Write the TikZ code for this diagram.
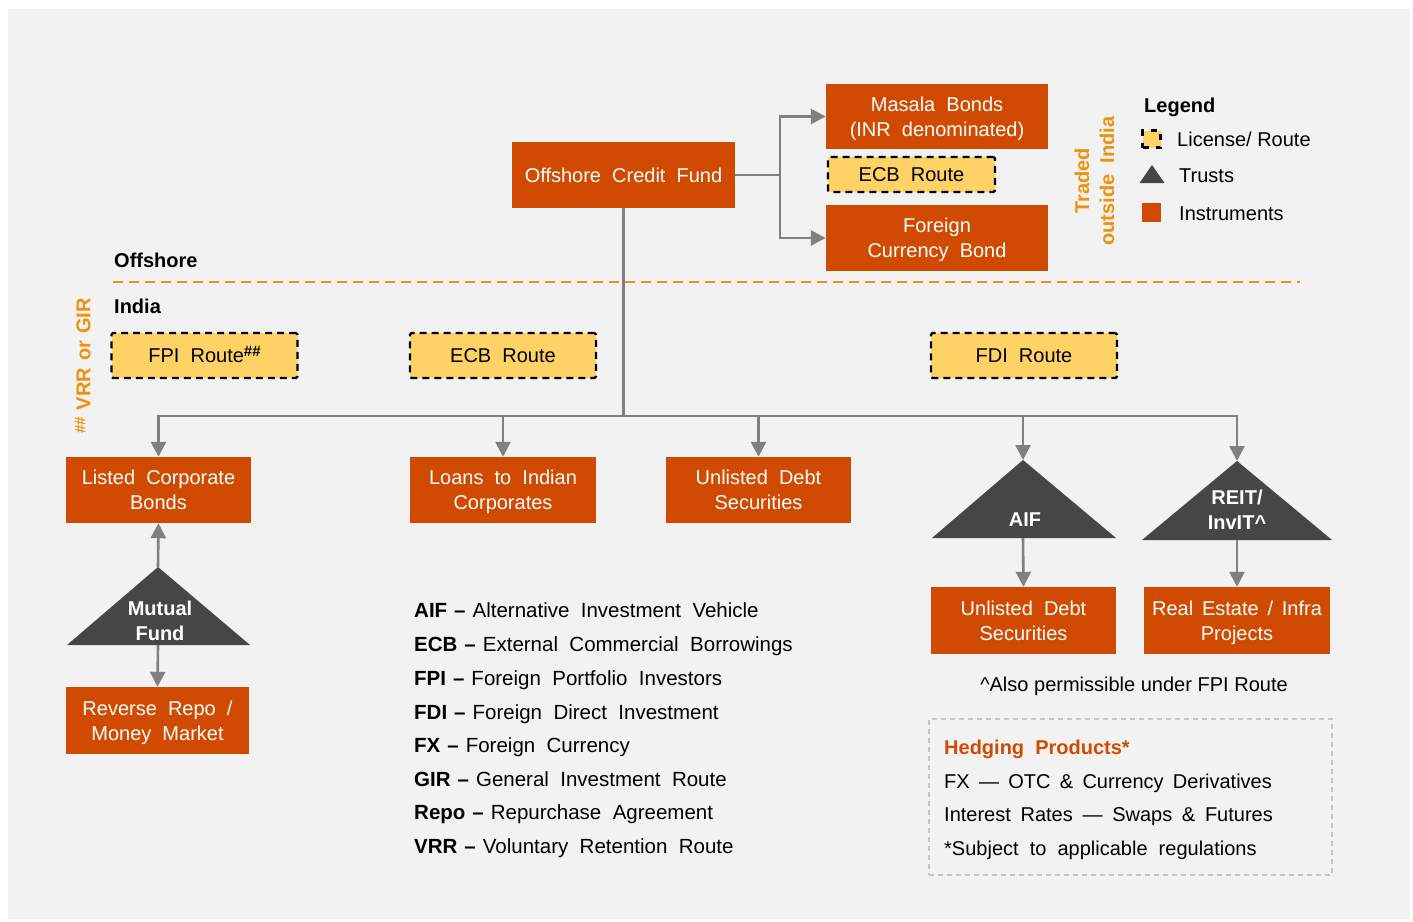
\documentclass[tikz,border=0pt]{standalone}
\usepackage{fontspec}
\setmainfont{Liberation Sans}[WordSpace=2]
\usetikzlibrary{arrows.meta}
\definecolor{panel}{HTML}{F2F2F2}
\definecolor{instr}{HTML}{D04A02}
\definecolor{routey}{HTML}{FFD265}
\definecolor{trustgrey}{HTML}{464646}
\definecolor{conn}{HTML}{808080}
\definecolor{accent}{HTML}{F0900E}
\definecolor{hedgeline}{HTML}{C4C4C4}
\newcommand\fs[1]{\fontsize{#1}{25}\selectfont}
\newcommand\hashsup[1]{\raisebox{#1}{\bfseries\fs{15}\#\#}}
\newcommand\abbrline[2]{\fs{20.5}\textbf{#1\hspace{7pt}–}\hspace{7pt}#2}

\begin{document}
\begin{tikzpicture}[x=1pt,y=-1pt,
  base/.style={font=\fs{20}, inner sep=0pt, align=center},
  oneline/.style={text height=14.5pt, text depth=0pt},
  boldtext/.style={base, font=\bfseries\fs{20}},
  accenttext/.style={boldtext, text=accent},
  instrbox/.style={base, fill=instr, text=white, text depth=0pt, minimum width=186pt, minimum height=66pt},
  routebox/.style={base, oneline, fill=routey, draw=black, line width=2.2pt,
    dash pattern=on 7pt off 5pt, rounded corners=1.5pt, minimum width=186pt, minimum height=45pt},
  trusttext/.style={boldtext, text=white},
  trust/.style={fill=trustgrey},
  link/.style={draw=conn, line width=2.6pt},
  arrow/.style={link, -{Triangle[length=15pt,width=15pt]}},
  abbr/.style={base, oneline, anchor=west},
]
\useasboundingbox (0,0) rectangle (1413,921);
\fill[white] (0,0) rectangle (1413,921);
\fill[panel] (8,9) rectangle (1410,919);

% ---------- offshore part ----------
\node[instrbox, minimum width=223pt] (ocf) at (623.5,175) {Offshore Credit Fund};
\node[instrbox, minimum width=222pt, minimum height=65pt] (masala) at (937,116.5) {Masala Bonds\\(INR denominated)};
\node[routebox, minimum width=167pt, minimum height=35pt] (ecbtop) at (911.5,174.5) {ECB Route};
\node[instrbox, minimum width=222pt] (fcb) at (937,238) {Foreign\\Currency Bond};

\coordinate (fork) at (780,175);
\draw[link] (ocf.east) -- (fork);
\draw[arrow] (fork) |- (masala.west);
\draw[arrow] (fork) |- (fcb.west);

\node[accenttext, rotate=90] (traded) at (1094.5,181) {Traded\\outside India};

% ---------- legend ----------
\node[boldtext, oneline, anchor=west] (legend) at (1144,105) {Legend};
\node[fill=routey, draw=black, line width=2.2pt, dash pattern=on 6pt off 7pt,
      minimum width=18pt, minimum height=17pt, inner sep=0pt] (lgroute) at (1151.5,139) {};
\node[abbr] (lgroutetxt) at (1177,139) {\spaceskip=5.6pt License/ Route};
\coordinate (lgtrust) at (1152,165);
\fill[trust] (lgtrust) -- (1164.5,183) -- (1139.5,183) -- cycle;
\node[abbr] (lgtrusttxt) at (1179,175) {Trusts};
\node[fill=instr, minimum width=19pt, minimum height=19pt, inner sep=0pt] (lginstr) at (1151.5,212) {};
\node[abbr] (lginstrtxt) at (1179,213) {Instruments};

% ---------- boundary ----------
\node[boldtext, oneline, anchor=west] (offshore) at (114,260) {Offshore};
\coordinate (bl) at (113,282);
\coordinate (br) at (1300,282);
\draw[accent, line width=2pt, dash pattern=on 10pt off 6pt] (bl) -- (br);
\node[boldtext, oneline, anchor=west] (india) at (114,306) {India};
\node[accenttext, oneline, rotate=90] (vrr) at (83,366) {\spaceskip=7pt \hashsup{5pt} VRR or GIR};

% ---------- routes ----------
\node[routebox] (fpi) at (204.5,355.5) {FPI Route\hashsup{6pt}};
\node[routebox] (ecb) at (503,355.5) {ECB Route};
\node[routebox] (fdi) at (1024,355.5) {FDI Route};

% ---------- onshore instruments ----------
\node[instrbox, minimum width=185pt] (lcb) at (158.5,490) {Listed Corporate\\Bonds};
\node[instrbox] (loans) at (503,490) {Loans to Indian\\Corporates};
\node[instrbox, minimum width=185pt] (uds) at (758.5,490) {Unlisted Debt\\Securities};

% trusts
\coordinate (aiftop) at (1023,460);
\coordinate (aifbot) at (1023,538);
\fill[trust] (aiftop) -- (1116,538) -- (932,538) -- cycle;
\node[trusttext] (aif) at (1025,520) {AIF};

\coordinate (reittop) at (1237,461);
\coordinate (reitbot) at (1237,540);
\fill[trust] (reittop) -- (1332,540) -- (1142,540) -- cycle;
\node[trusttext] (reit) at (1237,510) {REIT/\\InvIT\textasciicircum};

\coordinate (mftop) at (158,567);
\coordinate (mfbot) at (158,645);
\fill[trust] (mftop) -- (250,645) -- (67,645) -- cycle;
\node[trusttext] (mf) at (160,620.5) {Mutual\\Fund};

\node[instrbox, minimum width=183pt, minimum height=67pt] (rr) at (157.5,720.5) {Reverse Repo /\\Money Market};
\node[instrbox, minimum width=185pt, minimum height=67pt] (uds2) at (1023.5,620.5) {Unlisted Debt\\Securities};
\node[instrbox, minimum height=67pt] (re) at (1237,620.5) {\spaceskip=8.8pt Real Estate / Infra\\Projects};

% ---------- connectors ----------
\coordinate (hub) at (623.5,416);
\draw[link] (ocf.south) -- (hub);
\draw[arrow] (hub) -| (lcb.north);
\draw[arrow] (hub) -| (loans.north);
\draw[arrow] (hub) -| (uds.north);
\draw[arrow] (hub) -| (aiftop);
\draw[arrow] (hub) -| (reittop);
\draw[arrow] (mftop) -- (lcb.south);
\draw[arrow] (mfbot) -- (rr.north);
\draw[arrow] (aifbot) -- (uds2.north);
\draw[arrow] (reitbot) -- (re.north);

\node[base, oneline] (note) at (1134,684) {\spaceskip=5.6pt \textasciicircum Also permissible under FPI Route};

% ---------- hedging ----------
\node[draw=hedgeline, line width=1.3pt, dash pattern=on 5pt off 4pt,
      minimum width=403pt, minimum height=156pt, inner sep=0pt] (hedge) at (1130.5,797) {};
\node[abbr, font=\bfseries\fs{20}, text=instr] (hedgetitle) at (944,747) {Hedging Products*};
\node[abbr] (hedgefx) at (944,781) {\spaceskip=9.3pt FX — OTC \& Currency Derivatives};
\node[abbr] (hedgeir) at (944,814) {\spaceskip=9.7pt Interest Rates — Swaps \& Futures};
\node[abbr] (hedgenote) at (944,848) {*Subject to applicable regulations};

% ---------- abbreviations ----------
\node[abbr] (ab1) at (414,610) {\abbrline{AIF}{Alternative Investment Vehicle}};
\node[abbr] (ab2) at (414,644) {\abbrline{ECB}{External Commercial Borrowings}};
\node[abbr] (ab3) at (414,678) {\abbrline{FPI}{Foreign Portfolio Investors}};
\node[abbr] (ab4) at (414,712) {\abbrline{FDI}{Foreign Direct Investment}};
\node[abbr] (ab5) at (414,745) {\abbrline{FX}{Foreign Currency}};
\node[abbr] (ab6) at (414,779) {\abbrline{GIR}{General Investment Route}};
\node[abbr] (ab7) at (414,812) {\abbrline{Repo}{Repurchase Agreement}};
\node[abbr] (ab8) at (414,846) {\abbrline{VRR}{Voluntary Retention Route}};
\end{tikzpicture}
\end{document}
